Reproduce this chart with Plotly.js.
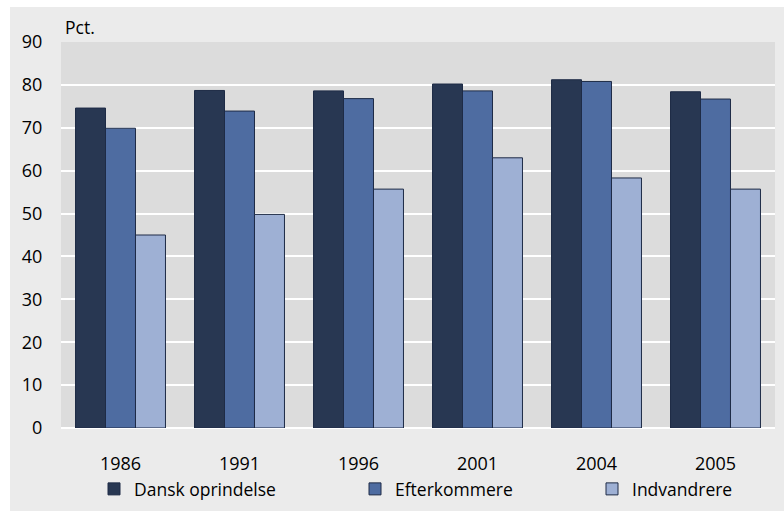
<!DOCTYPE html>
<html>
<head>
<meta charset="utf-8">
<script src="https://cdn.plot.ly/plotly-3.0.1.min.js"></script>
<style>html,body{margin:0;padding:0;background:#fff;}#chart{width:784px;height:511px;}</style>
</head>
<body>
<div id="chart"></div>
<script>
var years = ["1986", "1991", "1996", "2001", "2004", "2005"];
var dansk = [74.6, 78.7, 78.6, 80.2, 81.2, 78.4];
var efterkommere = [69.9, 73.9, 76.8, 78.6, 80.8, 76.7];
var indvandrere = [45.0, 49.8, 55.7, 63.0, 58.3, 55.7];
var seriesNames = ["Dansk oprindelse", "Efterkommere", "Indvandrere"];
var yTicks = [0, 10, 20, 30, 40, 50, 60, 70, 80, 90];

var FONT = "Open Sans, Noto Sans, sans-serif";
var TICKFS = 18;
var LEGFS = 17.5;
var colors = ["#283752", "#4e6ca1", "#9eb0d4"];
var lineCol = "#1e2b46";

var data = [dansk, efterkommere, indvandrere].map(function (vals, i) {
  return {
    type: "bar",
    x: years,
    y: vals,
    name: seriesNames[i],
    legend: i === 0 ? "legend" : ("legend" + (i + 1)),
    marker: { color: colors[i], line: { color: lineCol, width: 1 } },
    hoverinfo: "x+y+name"
  };
});

function legendAt(xpx) {
  return {
    orientation: "h",
    x: (xpx - 61) / 714, xanchor: "left",
    y: (428 - 489) / 386, yanchor: "middle",
    bgcolor: "rgba(0,0,0,0)",
    borderwidth: 0,
    font: { family: FONT, size: LEGFS, color: "#000" },
    itemwidth: 30
  };
}

var layout = {
  width: 784, height: 511,
  margin: { l: 61, r: 9, t: 42, b: 83, pad: 0, autoexpand: false },
  paper_bgcolor: "#ebebeb",
  plot_bgcolor: "#dcdcdc",
  barmode: "group",
  bargap: 0.244,
  bargroupgap: 0,
  font: { family: FONT, size: TICKFS, color: "#000" },
  xaxis: {
    type: "category",
    automargin: false,
    showgrid: false, zeroline: false, showline: false,
    ticks: "outside", ticklen: 19, tickcolor: "rgba(0,0,0,0)",
    tickfont: { family: FONT, size: TICKFS, color: "#000" }
  },
  yaxis: {
    range: [0, 90],
    automargin: false,
    tickvals: yTicks,
    ticktext: yTicks.map(String),
    showgrid: true, gridcolor: "#ffffff", gridwidth: 2,
    zeroline: true, zerolinecolor: "#ffffff", zerolinewidth: 2,
    showline: false,
    ticks: "outside", ticklen: 14, tickcolor: "rgba(0,0,0,0)",
    tickfont: { family: FONT, size: TICKFS, color: "#000" }
  },
  showlegend: true,
  legend: legendAt(94),
  legend2: legendAt(355),
  legend3: legendAt(592),
  annotations: [{
    xref: "paper", yref: "paper",
    x: (63 - 61) / 714, xanchor: "left",
    y: (428 - 27) / 386, yanchor: "middle",
    text: "Pct.", showarrow: false,
    font: { family: FONT, size: LEGFS, color: "#000" }
  }],
  shapes: [
    { type: "rect", xref: "paper", yref: "paper", layer: "above",
      x0: -0.2, x1: 1.2, y0: (428 - 7) / 386, y1: 1.3,
      fillcolor: "#ffffff", line: { width: 0 } },
    { type: "rect", xref: "paper", yref: "paper", layer: "above",
      x0: -0.2, x1: (10 - 61) / 714, y0: -0.4, y1: 1.3,
      fillcolor: "#ffffff", line: { width: 0 } }
  ]
};

Plotly.newPlot("chart", data, layout, { displayModeBar: false, staticPlot: true });
</script>
</body>
</html>
